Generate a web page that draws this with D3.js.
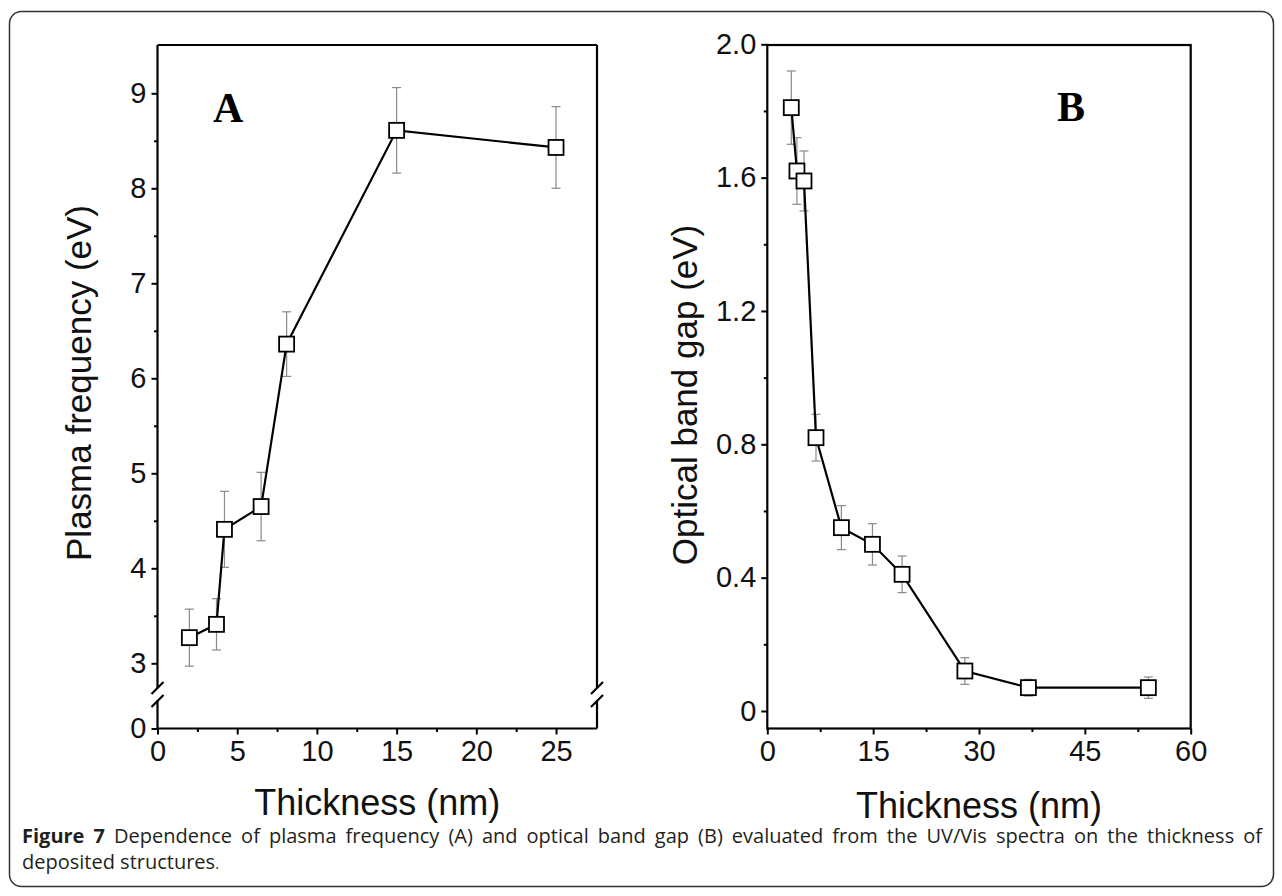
<!DOCTYPE html>
<html>
<head>
<meta charset="utf-8">
<script src="https://cdn.jsdelivr.net/npm/d3@7"></script>
<style>
  html, body { margin: 0; padding: 0; background: #fff; }
  svg { display: block; }
</style>
</head>
<body>
<svg id="chart" width="1282" height="896"></svg>
<script>
// ---------- data ----------
const thicknessA = [2.0, 3.7, 4.2, 6.5, 8.1, 15.0, 25.0];
const plasmaFreq = [3.27, 3.41, 4.41, 4.65, 6.36, 8.61, 8.43];
const plasmaErr  = [0.30, 0.27, 0.40, 0.36, 0.34, 0.45, 0.43];

const thicknessB = [3.4, 4.2, 5.2, 6.9, 10.5, 14.9, 19.1, 28.0, 37.0, 54.0];
const bandGap    = [1.81, 1.62, 1.59, 0.82, 0.55, 0.50, 0.41, 0.12, 0.07, 0.07];
const bandGapErr = [0.11, 0.10, 0.09, 0.07, 0.066, 0.062, 0.055, 0.04, 0.025, 0.032];

const xTicksA = [0, 5, 10, 15, 20, 25];
const xMinorA = [2.5, 7.5, 12.5, 17.5, 22.5];
const yTicksA = [3, 4, 5, 6, 7, 8, 9];
const yMinorA = [3.5, 4.5, 5.5, 6.5, 7.5, 8.5];
const xTicksB = [0, 15, 30, 45, 60];
const xMinorB = [7.5, 22.5, 37.5, 52.5];
const yTicksB = [0, 0.4, 0.8, 1.2, 1.6, 2.0];
const yMinorB = [0.2, 0.6, 1.0, 1.4, 1.8];

const captionBold = "Figure 7";
const captionLine1 = " Dependence of plasma frequency (A) and optical band gap (B) evaluated from the UV/Vis spectra on the thickness of";
const captionLine2 = "deposited structures";

// ---------- setup ----------
const svg = d3.select("#chart");
const tickFont = "'Liberation Sans', Arial, sans-serif";

svg.append("rect")
  .attr("x", 9.5).attr("y", 11.5).attr("width", 1264).attr("height", 875)
  .attr("rx", 12).attr("ry", 12)
  .attr("fill", "none").attr("stroke", "#333").attr("stroke-width", 1.5);

function styleAxis(g) {
  g.select(".domain").remove();
  g.attr("font-size", 29).attr("font-family", tickFont);
  g.selectAll(".tick line").attr("stroke", "#000").attr("stroke-width", 2);
  g.selectAll(".tick text").attr("font-family", tickFont).attr("font-size", 29).attr("fill", "#111");
}

function drawSeries(g, x, y, xs, ys, es) {
  const pts = xs.map((v, i) => ({x: v, y: ys[i], e: es[i]}));
  const eb = g.append("g").attr("stroke", "#8a8a8a").attr("stroke-width", 1.2);
  pts.forEach(p => {
    const cx = x(p.x), y1 = y(p.y + p.e), y2 = y(p.y - p.e);
    eb.append("line").attr("x1", cx).attr("x2", cx).attr("y1", y1).attr("y2", y2);
    eb.append("line").attr("x1", cx - 4.5).attr("x2", cx + 4.5).attr("y1", y1).attr("y2", y1);
    eb.append("line").attr("x1", cx - 4.5).attr("x2", cx + 4.5).attr("y1", y2).attr("y2", y2);
  });
  g.append("path").datum(pts)
    .attr("fill", "none").attr("stroke", "#000").attr("stroke-width", 2.2)
    .attr("d", d3.line().x(d => x(d.x)).y(d => y(d.y)));
  const s = 15;
  g.selectAll("rect.mk").data(pts).enter().append("rect")
    .attr("class", "mk")
    .attr("x", d => x(d.x) - s / 2).attr("y", d => y(d.y) - s / 2)
    .attr("width", s).attr("height", s)
    .attr("fill", "#fff").attr("stroke", "#000").attr("stroke-width", 1.8);
}

// ---------- Panel A ----------
{
  const L = 157.5, R = 597, T = 45, B = 728.5;
  const breakTop = 683, breakBot = 705;
  const x = d3.scaleLinear().domain([0, 27.57]).range([L, R]);
  const y = d3.scaleLinear().domain([3, 9]).range([663.3, 93.3]);
  const y0 = d3.scaleLinear().domain([0, 1]).range([B, B - 95]);
  const g = svg.append("g");

  const fr = g.append("g").attr("stroke", "#000").attr("stroke-width", 2.2).attr("fill", "none");
  fr.append("line").attr("x1", L).attr("x2", R).attr("y1", T).attr("y2", T);
  fr.append("line").attr("x1", L).attr("x2", R).attr("y1", B).attr("y2", B);
  [L, R].forEach(xx => {
    fr.append("line").attr("x1", xx).attr("x2", xx).attr("y1", T).attr("y2", breakTop + 5);
    fr.append("line").attr("x1", xx).attr("x2", xx).attr("y1", breakBot - 5).attr("y2", B);
    fr.append("line").attr("x1", xx - 6).attr("x2", xx + 6).attr("y1", 694).attr("y2", 682);
    fr.append("line").attr("x1", xx - 6).attr("x2", xx + 6).attr("y1", 707).attr("y2", 695);
  });

  g.append("g").attr("transform", `translate(${L},0)`)
    .call(d3.axisLeft(y).tickValues(yTicksA).tickSize(6).tickPadding(5).tickFormat(d3.format("d"))).call(styleAxis);
  g.append("g").attr("transform", `translate(${L},0)`)
    .call(d3.axisLeft(y).tickValues(yMinorA).tickSize(3.5).tickFormat("")).call(styleAxis);
  g.append("g").attr("transform", `translate(${L},0)`)
    .call(d3.axisLeft(y0).tickValues([0]).tickSize(6).tickPadding(5).tickFormat(d3.format("d"))).call(styleAxis);
  g.append("g").attr("transform", `translate(0,${B})`)
    .call(d3.axisBottom(x).tickValues(xTicksA).tickSize(6).tickPadding(6).tickFormat(d3.format("d"))).call(styleAxis);
  g.append("g").attr("transform", `translate(0,${B})`)
    .call(d3.axisBottom(x).tickValues(xMinorA).tickSize(3.5).tickFormat("")).call(styleAxis);

  drawSeries(g, x, y, thicknessA, plasmaFreq, plasmaErr);

  g.append("text").attr("x", 213).attr("y", 122)
    .attr("font-family", "'Liberation Serif', 'Times New Roman', serif").attr("font-weight", "bold")
    .attr("font-size", 42).text("A");
  g.append("text").attr("transform", "translate(91,383) rotate(-90)")
    .attr("text-anchor", "middle").attr("font-family", tickFont).attr("font-size", 35).attr("fill", "#111")
    .text("Plasma frequency (eV)");
  g.append("text").attr("x", (L + R) / 2).attr("y", 815)
    .attr("text-anchor", "middle").attr("font-family", tickFont).attr("font-size", 36).attr("fill", "#111")
    .text("Thickness (nm)");
}

// ---------- Panel B ----------
{
  const L = 767.3, R = 1190.7, T = 45, B = 728.5;
  const x = d3.scaleLinear().domain([0, 60]).range([L, R]);
  const y = d3.scaleLinear().domain([0, 2]).range([711, 44.3]);
  const g = svg.append("g");

  const fr = g.append("g").attr("stroke", "#000").attr("stroke-width", 2.2).attr("fill", "none");
  fr.append("rect").attr("x", L).attr("y", T).attr("width", R - L).attr("height", B - T);

  g.append("g").attr("transform", `translate(${L},0)`)
    .call(d3.axisLeft(y).tickValues(yTicksB).tickSize(6).tickPadding(5)
      .tickFormat(d => d === 0 ? "0" : d3.format(".1f")(d))).call(styleAxis);
  g.append("g").attr("transform", `translate(${L},0)`)
    .call(d3.axisLeft(y).tickValues(yMinorB).tickSize(3.5).tickFormat("")).call(styleAxis);
  g.append("g").attr("transform", `translate(0,${B})`)
    .call(d3.axisBottom(x).tickValues(xTicksB).tickSize(6).tickPadding(6).tickFormat(d3.format("d"))).call(styleAxis);
  g.append("g").attr("transform", `translate(0,${B})`)
    .call(d3.axisBottom(x).tickValues(xMinorB).tickSize(3.5).tickFormat("")).call(styleAxis);

  drawSeries(g, x, y, thicknessB, bandGap, bandGapErr);

  g.append("text").attr("x", 1057).attr("y", 121)
    .attr("font-family", "'Liberation Serif', 'Times New Roman', serif").attr("font-weight", "bold")
    .attr("font-size", 42).text("B");
  g.append("text").attr("transform", "translate(697,395) rotate(-90)")
    .attr("text-anchor", "middle").attr("font-family", tickFont).attr("font-size", 35).attr("fill", "#111")
    .text("Optical band gap (eV)");
  g.append("text").attr("x", (L + R) / 2).attr("y", 818)
    .attr("text-anchor", "middle").attr("font-family", tickFont).attr("font-size", 36).attr("fill", "#111")
    .text("Thickness (nm)");
}

// ---------- caption ----------
{
  const capFont = "'Open Sans', 'Noto Sans', sans-serif";
  const left = 22, right = 1262;
  const baseSize = 17;
  const t1 = svg.append("text").attr("x", left).attr("y", 843)
    .attr("font-family", capFont).attr("font-size", baseSize).attr("fill", "#231f20");
  t1.append("tspan").attr("font-weight", "bold").text(captionBold);
  t1.append("tspan").attr("font-weight", 500).text(captionLine1);
  const w = t1.node().getComputedTextLength();
  const size = Math.min(20, baseSize * (right - left) / w * 0.985);
  t1.attr("font-size", size);
  const w2 = t1.node().getComputedTextLength();
  const nSpaces = (captionBold + captionLine1).split(" ").length - 1;
  t1.attr("word-spacing", Math.max(0, (right - left - w2) / nSpaces));

  const t2 = svg.append("text").attr("x", left).attr("y", 869)
    .attr("font-family", capFont).attr("font-size", size).attr("fill", "#231f20");
  t2.append("tspan").attr("font-weight", 500).text(captionLine2);
  t2.append("tspan").attr("font-size", size * 0.7).text(".");
}
</script>
</body>
</html>
